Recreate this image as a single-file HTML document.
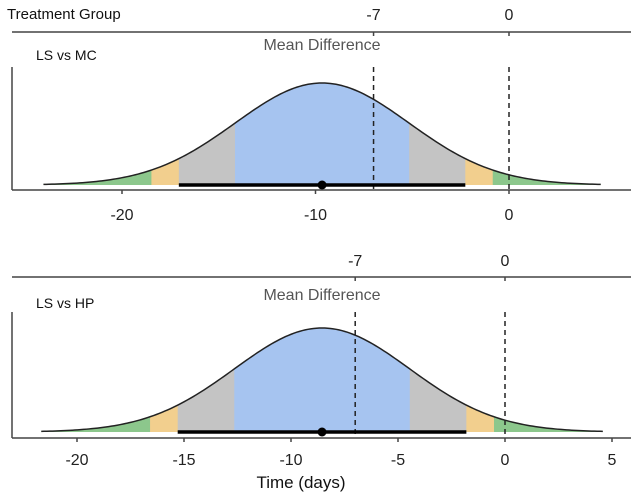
<!DOCTYPE html>
<html><head><meta charset="utf-8">
<style>
html,body{margin:0;padding:0;background:#fff;}
svg{display:block;font-family:"Liberation Sans",Arial,sans-serif;}
</style></head>
<body>
<svg id="chart" width="640" height="497" viewBox="0 0 640 497" xmlns="http://www.w3.org/2000/svg"></svg>
<script>
const panelLabels = ["LS vs MC", "LS vs HP"];
const meanValues = [-9.66, -8.55];
const seValues = [4.5, 4.1];
const refLines = [-7, 0];
const bottomTicksTop = [-20, -10, 0];
const bottomTicksBottom = [-20, -15, -10, -5, 0, 5];
const bandZ = [1, 1.645, 1.96, 3.2];
const ciZ = 1.645;
const bandColors = ["#a6c4f0", "#c4c4c4", "#f2cf8e", "#8cc78c"];

const NS = "http://www.w3.org/2000/svg";
const svg = document.getElementById("chart");
function mk(tag, attrs, parent) {
  const e = document.createElementNS(NS, tag);
  for (const k in attrs) e.setAttribute(k, attrs[k]);
  (parent || svg).appendChild(e);
  return e;
}
const layouts = [
  {zero:509, ppu:19.35, topLine:32, topLbl:20, title:50, lbl:60, yTop:67, base:185, axis:190, peak:102, tickLbl:220, ticks:bottomTicksTop},
  {zero:505, ppu:21.4, topLine:277, topLbl:266, title:300, lbl:308, yTop:312, base:432, axis:438, peak:104, tickLbl:465, ticks:bottomTicksBottom}
];

const t = mk("text", {x:7, y:19, "font-size":15, fill:"#111"});


t.textContent = "Treatment Group";

layouts.forEach((L, i) => {
  const g = mk("g", {});
  
  
  const X = v => L.zero + v * L.ppu;
  const m = meanValues[i], s = seValues[i];
  const Y = v => L.base - L.peak * Math.exp(-0.5 * Math.pow((v - m) / s, 2));
  const tl = mk("line", {x1:12, x2:631, y1:L.topLine, y2:L.topLine, stroke:"#444", "stroke-width":1.5}, g);
  
  
  refLines.forEach(r => {
    const tk = mk("line", {x1:X(r), x2:X(r), y1:L.topLine, y2:L.topLine + 4, stroke:"#444", "stroke-width":1.5}, g);
    
    
    const tt = mk("text", {x:X(r), y:L.topLbl, "text-anchor":"middle", "font-size":16, fill:"#222"}, g);
    
    
    tt.textContent = r;
  });
  const md = mk("text", {x:322, y:L.title, "text-anchor":"middle", "font-size":16, fill:"#555"}, g);
  
  
  md.textContent = "Mean Difference";
  const pl = mk("text", {x:36, y:L.lbl, "font-size":14, fill:"#111"}, g);
  
  
  pl.textContent = panelLabels[i];
  for (let b = bandZ.length - 1; b >= 0; b--) {
    const a = m - bandZ[b] * s, c = m + bandZ[b] * s;
    let d = "M" + X(a) + "," + L.base;
    for (let k = 0; k <= 120; k++) { const v = a + (c - a) * k / 120; d += " L" + X(v).toFixed(2) + "," + Y(v).toFixed(2); }
    d += " L" + X(c) + "," + L.base + " Z";
    const p = mk("path", {d:d, fill:bandColors[b]}, g);
    
    
  }
  const a = m - bandZ[3] * s, c = m + bandZ[3] * s;
  let d = "";
  for (let k = 0; k <= 200; k++) { const v = a + (c - a) * k / 200; d += (k ? " L" : "M") + X(v).toFixed(2) + "," + Y(v).toFixed(2); }
  const cu = mk("path", {d:d, fill:"none", stroke:"#222", "stroke-width":1.5}, g);
  
  
  refLines.forEach(r => {
    const dl = mk("line", {x1:X(r), x2:X(r), y1:L.yTop, y2:L.axis, stroke:"#222", "stroke-width":1.5, "stroke-dasharray":"5,4"}, g);
    
    
  });
  const ci = mk("line", {x1:X(m - ciZ * s), x2:X(m + ciZ * s), y1:L.base, y2:L.base, stroke:"#000", "stroke-width":3.5}, g);
  
  
  const dot = mk("circle", {cx:X(m), cy:L.base, r:4.5, fill:"#000"}, g);
  
  
  const ya = mk("line", {x1:12, x2:12, y1:L.yTop, y2:L.axis, stroke:"#444", "stroke-width":1.5}, g);
  
  
  const xa = mk("line", {x1:12, x2:631, y1:L.axis, y2:L.axis, stroke:"#444", "stroke-width":1.5}, g);
  
  
  L.ticks.forEach(v => {
    const tk = mk("line", {x1:X(v), x2:X(v), y1:L.axis, y2:L.axis + 4, stroke:"#444", "stroke-width":1.5}, g);
    
    
    const tt = mk("text", {x:X(v), y:L.tickLbl, "text-anchor":"middle", "font-size":16, fill:"#222"}, g);
    
    
    tt.textContent = v;
  });
});
const xt = mk("text", {x:301, y:488, "text-anchor":"middle", "font-size":17, fill:"#111"});


xt.textContent = "Time (days)";
</script>
</body></html>
